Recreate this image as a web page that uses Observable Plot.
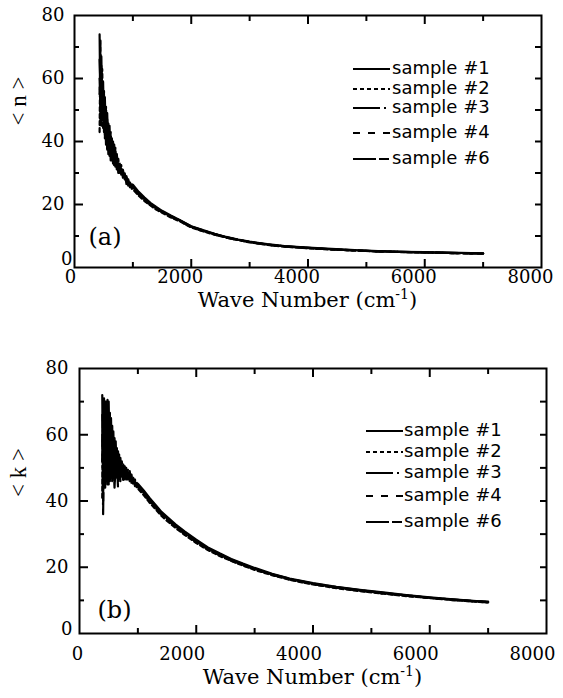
<!DOCTYPE html>
<html>
<head>
<meta charset="utf-8">
<script src="https://cdn.jsdelivr.net/npm/d3@7"></script>
<script src="https://cdn.jsdelivr.net/npm/@observablehq/plot@0.6"></script>
<style>
  body { margin: 0; background: #fff; }
  #fig { position: relative; width: 563px; height: 698px; overflow: hidden; background: #fff; color: #000; }
  #fig > svg { position: absolute; left: 0; }
  .xtitle { position: absolute; font-family: "DejaVu Serif"; font-size: 21px; line-height: 1; white-space: nowrap; transform: translateX(-50%); }
  .xtitle sup { font-size: 14px; vertical-align: 0; position: relative; top: -8px; }
  .legend-row { position: absolute; display: flex; align-items: flex-start; white-space: nowrap;
                font-family: "DejaVu Sans"; font-size: 18px; line-height: 18px; }
  .legend-row svg { flex: none; }
</style>
</head>
<body>
<div id="fig"></div>
<script>
// Wave numbers (cm^-1) sampled for panel (a); dense steps in the noisy low-frequency region
const wavenumberA = [430, 445, 460, 475, 490, 505, 520, 540, 560, 580, 600, 620, 640, 660, 680, 700, 725, 750, 775, 800, 830, 860, 890, 920, 950, 980,
  1000, 1100, 1200, 1300, 1400, 1500, 1650, 1800, 2000, 2200, 2400, 2600, 2800, 3000, 3300, 3600, 4000, 4400, 4800, 5200, 5600, 6000, 6400, 6800, 7000];

// <n> for each sample
const nSample1 = [74, 46, 67, 47, 59, 43, 54, 39, 49, 36, 45, 34, 41, 33, 39, 32, 36, 30, 33, 29.5, 31, 28, 29, 26.5, 27, 25.5,
  26.3, 24.0, 22.2, 20.5, 19.2, 18.0, 16.5, 15.1, 13.1, 11.9, 10.7, 9.7, 8.9, 8.2, 7.4, 6.8, 6.3, 5.9, 5.5, 5.2, 5.0, 4.85, 4.7, 4.55, 4.5];
const nSample2 = [43, 72, 45, 63, 44, 56, 41, 51, 37, 46, 35, 43, 34, 40, 32, 38, 31, 34.5, 30, 32.5, 28.5, 30, 26.5, 28, 25.5, 26.5,
  24.8, 22.8, 21.1, 19.7, 18.4, 17.4, 15.9, 14.7, 12.7, 11.5, 10.4, 9.5, 8.7, 8.0, 7.2, 6.6, 6.1, 5.7, 5.4, 5.1, 4.9, 4.75, 4.6, 4.45, 4.4];
const nSample3 = [60, 50, 64, 52, 48, 55, 46, 44, 47, 40, 42, 37, 39, 35, 37, 34, 35, 31.5, 32, 30, 30, 29, 28, 27, 26.5, 25.8,
  25.8, 23.6, 21.8, 20.3, 18.9, 17.8, 16.3, 15.0, 13.0, 11.8, 10.6, 9.6, 8.8, 8.1, 7.3, 6.7, 6.2, 5.8, 5.45, 5.15, 4.95, 4.8, 4.65, 4.5, 4.45];
const nSample4 = [55, 66, 48, 58, 52, 47, 50, 42, 45, 42, 38, 40, 36, 38, 34, 36, 33, 33, 31, 31, 29.5, 29.5, 27.5, 27.5, 26, 26,
  25.2, 23.1, 21.4, 19.9, 18.6, 17.6, 16.1, 14.8, 12.8, 11.6, 10.5, 9.5, 8.7, 8.05, 7.25, 6.65, 6.15, 5.75, 5.4, 5.1, 4.9, 4.8, 4.6, 4.5, 4.4];
const nSample6 = [66, 56, 60, 50, 56, 49, 44, 48, 41, 44, 40, 36, 38, 36, 35, 35, 32, 32.5, 31.5, 30.5, 29, 28.5, 28.5, 26, 26.8, 25,
  25.5, 23.4, 21.6, 20.1, 18.8, 17.7, 16.2, 14.9, 12.9, 11.7, 10.6, 9.6, 8.8, 8.1, 7.3, 6.7, 6.2, 5.8, 5.45, 5.15, 4.95, 4.8, 4.65, 4.5, 4.45];

// Wave numbers (cm^-1) sampled for panel (b)
const wavenumberB = [390, 405, 420, 440, 460, 480, 500, 520, 540, 560, 580, 600, 620, 640, 660, 680, 700, 725, 750, 775, 800, 830, 860, 890, 920, 950, 980,
  1000, 1100, 1200, 1300, 1400, 1500, 1650, 1800, 2000, 2200, 2400, 2600, 2800, 3000, 3300, 3600, 4000, 4400, 4800, 5200, 5600, 6000, 6400, 6800, 7000];

// <k> for each sample
const kSample1 = [72, 40, 71, 44, 70, 45, 70, 46, 65, 46, 61, 46, 58, 47, 55, 47, 53, 47.5, 51, 46.5, 50, 46.5, 49, 45.5, 47, 44.5, 45.5,
  45.2, 43.2, 40.9, 38.9, 36.8, 35.2, 32.9, 30.8, 28.3, 26.0, 24.2, 22.5, 21.1, 19.8, 18.0, 16.6, 15.2, 14.1, 13.2, 12.4, 11.6, 10.9, 10.3, 9.8, 9.6];
const kSample2 = [41, 70, 45, 70, 46, 70.5, 45, 67, 47, 63, 47, 59, 47, 56, 46, 54, 46, 52, 47, 50.5, 46.5, 49.5, 46, 48, 45, 46.5, 44,
  43.8, 41.8, 39.5, 37.6, 35.6, 34.0, 31.8, 29.8, 27.3, 25.2, 23.4, 21.9, 20.5, 19.2, 17.6, 16.2, 14.8, 13.7, 12.8, 12.0, 11.3, 10.7, 10.1, 9.6, 9.4];
const kSample3 = [60, 36, 62, 50, 64, 52, 60, 50, 56, 52, 52, 44, 52, 50, 50, 50, 49, 49, 48, 48, 48, 48, 47.5, 46.5, 46, 45.5, 44.8,
  44.8, 42.8, 40.5, 38.6, 36.4, 34.8, 32.6, 30.5, 27.9, 25.7, 23.9, 22.3, 20.9, 19.6, 17.9, 16.5, 15.1, 14.0, 13.1, 12.3, 11.5, 10.8, 10.2, 9.7, 9.5];
const kSample4 = [52, 65, 55, 62, 52, 64, 55, 58, 52, 57, 50, 54, 49, 52, 44, 51, 47, 50, 46, 49, 47, 47.5, 48, 46, 45.5, 45, 45,
  44.2, 42.2, 39.9, 37.9, 36.0, 34.4, 32.0, 30.1, 27.6, 25.4, 23.6, 22.0, 20.6, 19.4, 17.7, 16.3, 14.9, 13.8, 12.9, 12.1, 11.4, 10.7, 10.1, 9.6, 9.4];
const kSample6 = [66, 55, 66, 56, 60, 58, 64, 54, 60, 50, 56, 50, 54, 48, 52, 48, 51, 48.5, 49.5, 47.5, 48.5, 47, 47, 47, 46, 45.8, 44.5,
  44.5, 42.5, 40.2, 38.2, 36.2, 34.6, 32.3, 30.3, 27.8, 25.6, 23.8, 22.2, 20.8, 19.5, 17.8, 16.4, 15.0, 13.9, 13.0, 12.2, 11.5, 10.8, 10.2, 9.7, 9.5];

const sampleNames = ["sample #1", "sample #2", "sample #3", "sample #4", "sample #6"];
const sampleDashes = [null, "4,3", "27,4,2,4", "7,8", "23,3,10,3"];

const xTicksMajor = [0, 2000, 4000, 6000, 8000];
const xTicksMinor = [1000, 3000, 5000, 7000];
const yTicksMajor = [0, 20, 40, 60, 80];
const yTicksMinor = [10, 30, 50, 70];

const serif = "DejaVu Serif";
const plain = d => String(d);

function panel(cfg) {
  const tickStyle = {stroke: "black", strokeWidth: 2, fill: "none", label: null};
  const labelStyle = {stroke: "none", fill: "black", fontFamily: serif, fontSize: 18, tickSize: 0, tickFormat: plain, label: null};
  const inner = xTicksMajor.slice(1, -1);
  const innerY = yTicksMajor.slice(1, -1);
  // a negative tick size turns the ticks inward, into the frame
  const tickIn = (axis, values, anchor, len) => axis(values, {anchor, tickSize: -len, ...tickStyle});
  return Plot.plot({
    width: 563,
    height: cfg.height,
    marginTop: cfg.marginTop,
    marginBottom: cfg.marginBottom,
    marginLeft: cfg.marginLeft,
    marginRight: cfg.marginRight,
    style: {background: "white", color: "black"},
    x: {domain: [0, 8000], label: null},
    y: {domain: [0, 80], label: null},
    marks: [
      // one curve per sample
      ...cfg.series.map((vals, i) => Plot.line(
        cfg.wn.map((w, j) => ({wn: w, value: vals[j], sample: sampleNames[i]})),
        {x: "wn", y: "value", stroke: "black", strokeWidth: 2.2, strokeDasharray: sampleDashes[i] ?? undefined}
      )),
      Plot.frame({stroke: "black", strokeWidth: 2}),
      tickIn(Plot.axisX, inner, "bottom", 8),
      tickIn(Plot.axisX, xTicksMinor, "bottom", 5),
      tickIn(Plot.axisX, inner, "top", 8),
      tickIn(Plot.axisX, xTicksMinor, "top", 5),
      tickIn(Plot.axisY, innerY, "left", 9),
      tickIn(Plot.axisY, yTicksMinor, "left", 5),
      tickIn(Plot.axisY, innerY, "right", 7),
      tickIn(Plot.axisY, yTicksMinor, "right", 7),
      // tick labels
      Plot.axisX(xTicksMajor.slice(1), {anchor: "bottom", tickPadding: cfg.xPad, dx: cfg.xShift, ...labelStyle}),
      Plot.axisX(xTicksMajor.slice(0, 1), {anchor: "bottom", tickPadding: cfg.xPad, dx: cfg.x0Shift, ...labelStyle}),
      Plot.axisY(yTicksMajor.slice(1), {anchor: "left", tickPadding: cfg.yPad, ...labelStyle}),
      Plot.axisY(yTicksMajor.slice(0, 1), {anchor: "left", tickPadding: cfg.yPad, dx: cfg.y0Dx, dy: cfg.y0Dy, ...labelStyle}),
      // axis title and panel tag
      Plot.text([cfg.yLabel], {text: d => d, frameAnchor: "left", rotate: -90, dx: cfg.yLabelDx, dy: cfg.yLabelDy,
        fontFamily: "Liberation Serif", fontSize: 23, fill: "black"}),
      Plot.text([cfg.tag], {text: d => d, frameAnchor: "bottom-left", textAnchor: "start", lineAnchor: "middle",
        dx: cfg.tagDx, dy: cfg.tagDy, fontFamily: serif, fontSize: 24, fill: "black"})
    ]
  });
}

const fig = document.getElementById("fig");

const panelA = panel({
  wn: wavenumberA, series: [nSample1, nSample2, nSample3, nSample4, nSample6],
  height: 290, marginTop: 15, marginBottom: 23, marginLeft: 74, marginRight: 22,
  xPad: 3, xShift: -11, x0Shift: -4, yPad: 10, y0Dx: 8, y0Dy: -8,
  yLabel: "< n >", yLabelDx: -56, yLabelDy: -16, tag: "(a)", tagDx: 14, tagDy: -30
});
panelA.style.top = "0px";
fig.appendChild(panelA);

const panelB = panel({
  wn: wavenumberB, series: [kSample1, kSample2, kSample3, kSample4, kSample6],
  height: 345, marginTop: 48, marginBottom: 32, marginLeft: 79, marginRight: 17,
  xPad: 14, xShift: -14, x0Shift: -2, yPad: 11, y0Dx: 4, y0Dy: -4,
  yLabel: "< k >", yLabelDx: -61, yLabelDy: -4, tag: "(b)", tagDx: 18, tagDy: -23
});
panelB.style.top = "320px";
fig.appendChild(panelB);

// x-axis titles with a superscript exponent
function xTitle(centerX, topY) {
  const d = document.createElement("div");
  d.className = "xtitle";
  d.style.left = centerX + "px";
  d.style.top = topY + "px";
  d.innerHTML = "Wave Number (cm<sup>-1</sup>)";
  fig.appendChild(d);
}
xTitle(307.5, 290);
xTitle(312.5, 667);

// legends: line sample followed by label
function legend(lineLeft, textLeft, centers) {
  sampleNames.forEach((name, i) => {
    const row = document.createElement("div");
    row.className = "legend-row";
    row.style.left = lineLeft + "px";
    row.style.top = (centers[i] - 9) + "px";
    const w = textLeft - lineLeft;
    const svg = d3.create("svg").attr("width", w).attr("height", 18);
    svg.append("line").attr("x1", 0).attr("x2", 37).attr("y1", 10).attr("y2", 10)
      .attr("stroke", "black").attr("stroke-width", 2)
      .attr("stroke-dasharray", sampleDashes[i]);
    row.appendChild(svg.node());
    const span = document.createElement("span");
    span.textContent = name;
    row.appendChild(span);
    fig.appendChild(row);
  });
}
legend(353, 392, [68, 88, 107, 132, 158]);
legend(366, 404, [430, 451, 472, 495, 521]);
</script>
</body>
</html>
